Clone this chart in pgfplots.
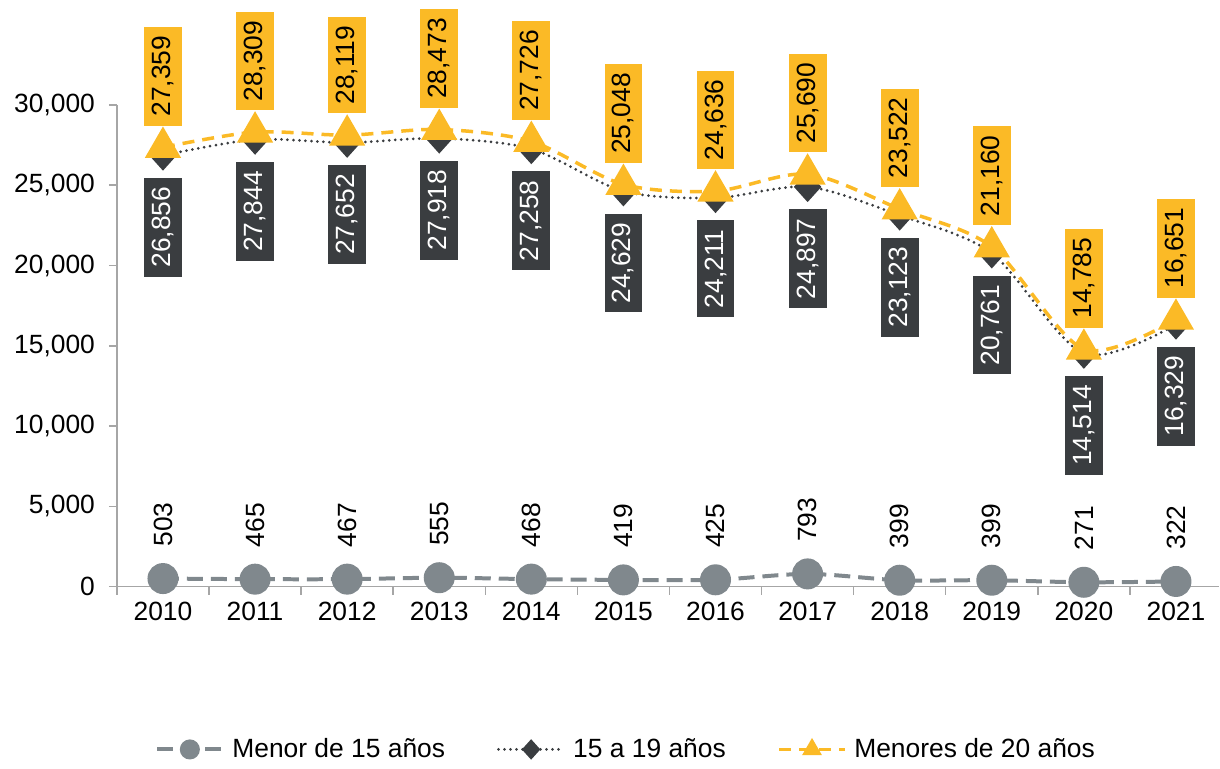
\documentclass[border=0pt]{standalone}
\usepackage{fontspec}
\setmainfont{Liberation Sans}
\usepackage{pgfplots}
\pgfplotsset{compat=1.18}
\definecolor{cyel}{RGB}{251,186,38}
\definecolor{cdark}{RGB}{58,61,64}
\definecolor{cgray}{RGB}{128,136,141}
\definecolor{caxis}{RGB}{166,166,166}
\newcommand\f{\fontsize{13.2bp}{15bp}\selectfont}
\begin{document}
\begin{tikzpicture}
\begin{axis}[
 scale only axis, width=551.5bp, height=241bp,
 xmin=-0.5, xmax=11.47, ymin=0, ymax=30000,
 clip=false,
 axis x line*=bottom, axis y line*=left,
 axis line style={caxis, line width=0.75bp},
 xtick={0,1,2,3,4,5,6,7,8,9,10,11},
 xticklabels={2010,2011,2012,2013,2014,2015,2016,2017,2018,2019,2020,2021},
 major x tick style={draw=none},
 minor xtick={-0.5,0.5,1.5,2.5,3.5,4.5,5.5,6.5,7.5,8.5,9.5,10.5},
 ytick={0,5000,10000,15000,20000,25000,30000},
 scaled y ticks=false,
 tick align=outside, major tick length=4bp, minor tick length=4bp,
 tick style={caxis, line width=0.75bp},
 ticklabel style={font=\f, black},
 yticklabel style={xshift=-3.5bp},
 /pgf/number format/.cd, 1000 sep={,}, assume math mode=true, /pgfplots/.cd,
 legend columns=3,
 legend cell align=left,
 legend style={draw=none, at={(0.4628,-0.338)}, anchor=center, font=\f,
   /tikz/every odd column/.append style={column sep=2bp},
   /tikz/every even column/.append style={column sep=24bp}},
 legend image code/.code={\draw[mark repeat=2,mark phase=2, mark size=4bp] plot coordinates {(0cm,0cm)(0.575cm,0cm)(1.15cm,0cm)};},
]
\addplot[cgray, line width=2bp, dash pattern=on 8bp off 4bp, smooth,
  mark=*, mark size=6.75bp, mark options={solid, fill=cgray, draw=cgray},
  nodes near coords={\pgfmathprintnumber[1000 sep={,}]{\pgfplotspointmeta}},
  every node near coord/.append style={font=\f, text=black, yshift=15bp, rotate=90, anchor=west, inner sep=0pt}]
coordinates {(0,503)(1,465)(2,467)(3,555)(4,468)(5,419)(6,425)(7,793)(8,399)(9,399)(10,271)(11,322)};
\addlegendentry{Menor de 15 años}
\addplot[cdark, line width=1.5bp, dash pattern=on 0pt off 3bp, line cap=round, smooth,
  mark=diamond*, mark size=6.5bp, mark options={solid, fill=cdark, draw=cdark, xscale=1.2},
  nodes near coords={\pgfmathprintnumber[1000 sep={,}]{\pgfplotspointmeta}},
  every node near coord/.append style={font=\f, text=white, fill=cdark, yshift=-10.5bp, rotate=90, anchor=east, inner xsep=4.5bp, inner ysep=4bp}]
coordinates {(0,26856)(1,27844)(2,27652)(3,27918)(4,27258)(5,24629)(6,24211)(7,24897)(8,23123)(9,20761)(10,14514)(11,16329)};
\addlegendentry{15 a 19 años}
\addplot[cyel, line width=1.75bp, dash pattern=on 6bp off 4bp, smooth,
  mark=triangle*, mark size=8.7bp, mark options={solid, fill=cyel, draw=cyel},
  nodes near coords={\pgfmathprintnumber[1000 sep={,}]{\pgfplotspointmeta}},
  every node near coord/.append style={font=\f, text=black, fill=cyel, yshift=10bp, rotate=90, anchor=west, inner xsep=4.5bp, inner ysep=4bp}]
coordinates {(0,27359)(1,28309)(2,28119)(3,28473)(4,27726)(5,25048)(6,24636)(7,25690)(8,23522)(9,21160)(10,14785)(11,16651)};
\addlegendentry{Menores de 20 años}
\end{axis}
\path[use as bounding box] ([shift={(-58.5bp,-87.5bp)}]current axis.south west) rectangle ([shift={(0bp,52.5bp)}]current axis.north east);
\end{tikzpicture}
\end{document}
